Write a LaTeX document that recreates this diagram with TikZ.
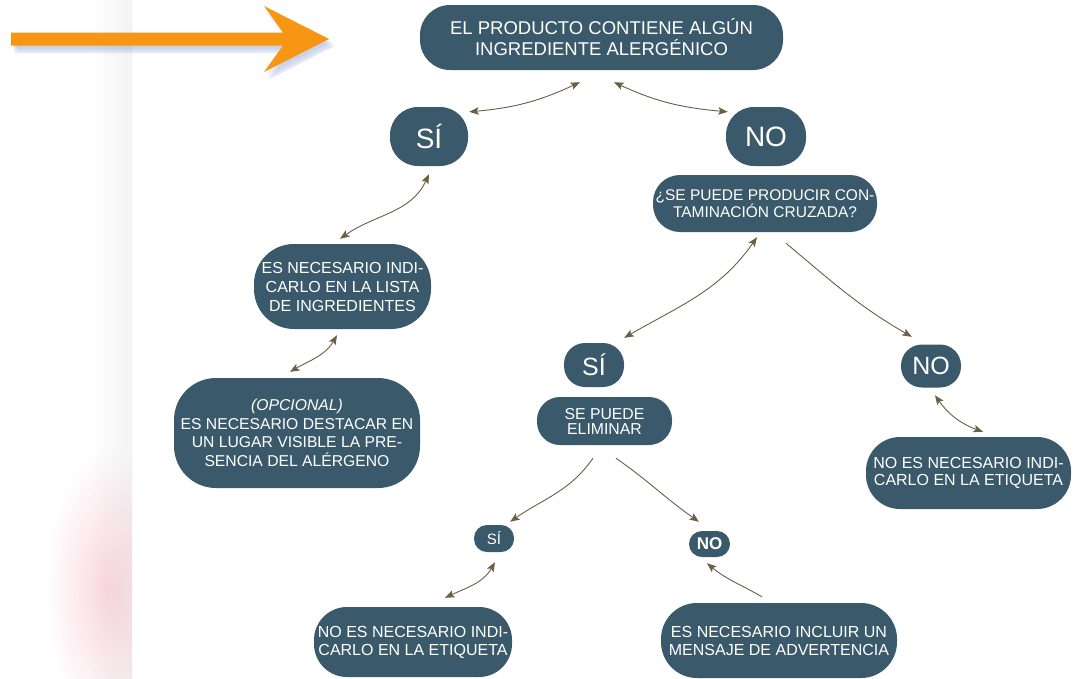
\documentclass[tikz,border=0pt]{standalone}
\usepackage{fontspec}
\setmainfont{Liberation Sans}
\usetikzlibrary{arrows.meta,fadings}
\definecolor{teal0}{RGB}{58,90,107}
\definecolor{arrc}{RGB}{108,96,68}
\definecolor{orng}{RGB}{246,150,18}
\definecolor{pinkblur}{RGB}{240,150,175}
\definecolor{shadowc}{RGB}{90,120,190}
\tikzfading[name=softfade, inner color=transparent!0, outer color=transparent!100]
\tikzset{
  box/.style={fill=teal0, text=white, align=center, inner sep=0pt, rounded corners=#1},
  fs/.style 2 args={font=\fontsize{#1}{#2}\selectfont},
  conn/.style={draw=arrc, line width=0.9pt, -{Stealth[length=9.5pt,width=7.5pt,inset=2pt]}},
  dconn/.style={draw=arrc, line width=0.9pt, {Stealth[length=9.5pt,width=7.5pt,inset=2pt]}-{Stealth[length=9.5pt,width=7.5pt,inset=2pt]}},
  oarrow/.style={insert path={(11,-32.5) -- (283,-32.5) -- (264,-6) -- (329,-39) -- (264,-72) -- (283,-45.5) -- (11,-45.5) -- cycle}},
}
\begin{document}
\begin{tikzpicture}[x=1pt,y=1pt]
\useasboundingbox (0,0) rectangle (1074,-678);
% background
\fill[white] (0,0) rectangle (1074,-678);
\shade[left color=white, right color=gray!9] (90,0) rectangle (132,-678);
\begin{scope}
  \clip (0,0) rectangle (132,-678);
  \fill[pinkblur, opacity=0.38, path fading=softfade] (108,-590) ellipse (62 and 140);
\end{scope}
% orange arrow with soft shadow
\foreach \dx/\dy in {2/-3,4/-5,6/-7,3/-8}{
  \fill[shadowc, opacity=0.09, shift={(\dx,\dy)}, oarrow];
}
\fill[orng, oarrow];

% nodes
\node[box=30, fs={18.5}{21}, minimum width=363, minimum height=65] (top) at (601.5,-37.5) {EL PRODUCTO CONTIENE ALGÚN\\INGREDIENTE ALERGÉNICO};
\node[box=28, fs={28}{30}, minimum width=78, minimum height=59] (si1) at (429,-136.5) {SÍ};
\node[box=28, fs={28}{30}, minimum width=80, minimum height=59] (no1) at (766,-136.5) {NO};
\node[box=27, fs={15.5}{16}, minimum width=224, minimum height=57] (cruz) at (765,-203.5) {¿SE PUEDE PRODUCIR CON-\\TAMINACIÓN CRUZADA?};
\node[box=40, fs={16}{19}, minimum width=177, minimum height=85] (esind) at (342.5,-286.5) {ES NECESARIO INDI-\\CARLO EN LA LISTA\\DE INGREDIENTES};
\node[box=42, fs={15.7}{18.5}, minimum width=246, minimum height=110] (opc) at (297,-433) {\itshape (OPCIONAL)\\ES NECESARIO DESTACAR EN\\UN LUGAR VISIBLE LA PRE-\\SENCIA DEL ALÉRGENO};
\node[box=21, fs={25}{27}, minimum width=60, minimum height=44] (si2) at (594,-365) {SÍ};
\node[box=23, fs={15.8}{15}, minimum width=135, minimum height=48] (elim) at (604.5,-421) {SE PUEDE\\ELIMINAR};
\node[box=21, fs={25}{27}, minimum width=60, minimum height=43] (no2) at (931,-366) {NO};
\node[box=34, fs={16}{17}, minimum width=205, minimum height=72] (nesr) at (968.5,-473) {NO ES NECESARIO INDI-\\CARLO EN LA ETIQUETA};
\node[box=13, fs={15}{16}, minimum width=40, minimum height=27] (si3) at (494,-538.5) {SÍ};
\node[box=13, fs={17}{18}, minimum width=41, minimum height=26] (no3) at (709.5,-544) {\bfseries NO};
\node[box=33, fs={16}{18}, minimum width=198, minimum height=70] (nebl) at (413,-642) {NO ES NECESARIO INDI-\\CARLO EN LA ETIQUETA};
\node[box=36, fs={16}{18}, minimum width=236, minimum height=75] (adv) at (779,-640.5) {ES NECESARIO INCLUIR UN\\MENSAJE DE ADVERTENCIA};

% connectors
\draw[dconn] ([shift={(-21.5,-12)}]top.south) to[out=205,in=5] ([shift={(1,-5)}]si1.north east);
\draw[dconn] ([shift={(12.5,-12)}]top.south) to[out=-25,in=175] ([shift={(2,-5)}]no1.north west);
\draw[dconn] ([shift={(0,-8)}]si1.south) to[out=245,in=35] ([shift={(-2.5,5)}]esind.north);
\draw[dconn] ([shift={(-5.5,-6)}]esind.south) to[out=240,in=30] ([shift={(-7,6)}]opc.north);
\draw[dconn] ([shift={(-8,-5)}]cruz.south) to[out=235,in=30] ([shift={(0,5)}]si2.north east);
\draw[conn] ([shift={(21,-11)}]cruz.south) to[out=-40,in=150] ([shift={(11,7.5)}]no2.north west);
\draw[dconn] ([shift={(4,-7.5)}]no2.south) to[out=-55,in=160] ([shift={(14.5,5)}]nesr.north);
\draw[conn] ([shift={(-11.5,-13)}]elim.south) to[out=235,in=35] ([shift={(-4,3)}]si3.north east);
\draw[conn] ([shift={(11.5,-13)}]elim.south) to[out=-35,in=145] ([shift={(-10.5,9)}]no3.north);
\draw[dconn] ([shift={(1,-10)}]si3.south) to[out=240,in=25] ([shift={(32,9)}]nebl.north);
\draw[conn] ([shift={(-17,6)}]adv.north) to[out=150,in=-40] ([shift={(-2.5,-6)}]no3.south);
\end{tikzpicture}
\end{document}
